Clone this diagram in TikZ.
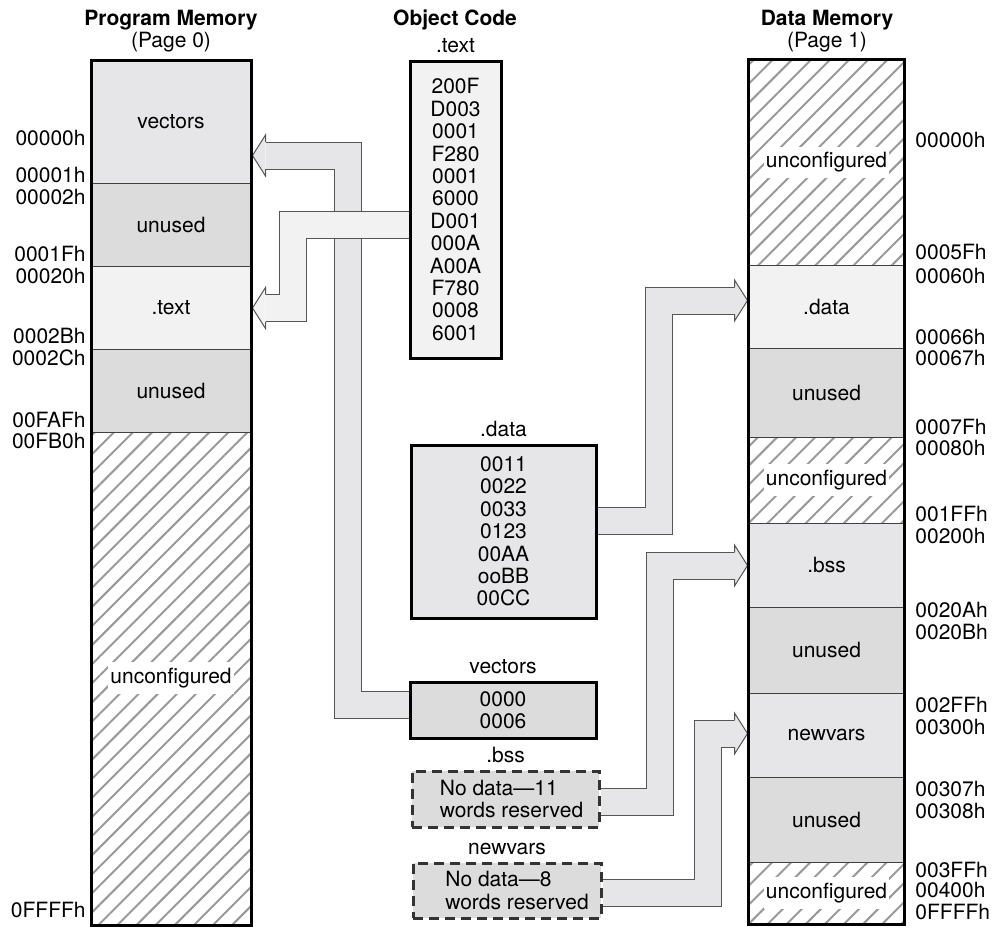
\documentclass[tikz,border=0pt]{standalone}
\usepackage{fontspec}
\setmainfont{TeX Gyre Heros}
\usetikzlibrary{positioning,fit,calc,backgrounds,patterns.meta}

\definecolor{segLite}{HTML}{F2F2F2}
\definecolor{segMid}{HTML}{E6E6E8}
\definecolor{segDark}{HTML}{DCDCDC}
\definecolor{bandLine}{HTML}{555555}
\definecolor{hatchGray}{HTML}{999999}

% #1 start, #2 bend x, #3 tip, #4 head base offset, #5 fill
\newcommand{\memband}[5]{%
  \draw[bandedge] (#1) -| (#2,0 |- #3) -- ($(#3)+(#4,0)$);
  \draw[bandbody, draw=#5] (#1) -| (#2,0 |- #3) -- ($(#3)+(#4,0)$);
  \filldraw[bandtip, fill=#5] ($(#3)+(#4,-13.5)$) -- ++(0,-7) -- (#3) -- ($(#3)+(#4,20.5)$) -- ++(0,-7);
}

\begin{document}
\begin{tikzpicture}[x=0.5pt, y=-0.5pt,
    font=\fontsize{10.5}{11.2}\selectfont,
    seg/.style={draw=black!75, line width=0.5pt, inner sep=0pt},
    unconf/.style={seg, pattern={Lines[angle=45, distance=6.75pt, line width=1pt]}, pattern color=hatchGray},
    unclab/.style={fill=white, inner xsep=1pt, inner ysep=3pt},
    memframe/.style={draw=black, line width=1.5pt},
    objbox/.style={draw=black, line width=1.5pt, inner sep=0pt},
    resbox/.style={objbox, draw=black!80, dash pattern=on 5pt off 3pt, fill=segDark},
    title/.style={font=\fontsize{10.5}{11.2}\selectfont\bfseries},
    addr/.style={inner sep=1pt},
    bandedge/.style={line width=14pt, draw=bandLine},
    bandbody/.style={line width=13pt},
    bandtip/.style={draw=bandLine, line width=0.5pt}
]
\useasboundingbox (0,0) rectangle (994,928);

% program memory
\node[title] (tprog) at (171,20) {Program Memory};
\node (tpage0) at (171,42) {(Page 0)};
\node[seg, fill=segMid, fit={(92,61) (250,183)}, label=center:vectors] (pvec) {};
\node[seg, fill=segDark, fit={(92,183) (250,266)}, label=center:unused] (pun1) {};
\node[seg, fill=segLite, fit={(92,266) (250,349)}, label=center:.text] (ptext) {};
\node[seg, fill=segDark, fit={(92,349) (250,432)}, label=center:unused] (pun2) {};
\node[unconf, fit={(92,432) (250,924)}] (punc) {};
\node[unclab] (punclab) at (punc) {unconfigured};
\draw[memframe] (pvec.north west) rectangle (punc.south east);

\foreach \y/\t [count=\i] in {138/00000h, 175/00001h, 197/00002h, 254/0001Fh, 276/00020h,
    336/0002Bh, 358/0002Ch, 420/00FAFh, 441/00FB0h, 910/0FFFFh}
  \node[addr, anchor=east] (pa\i) at (88,\y) {\t};

% object code
\node[title] (tobj) at (455,20) {Object Code};
\node[objbox, fill=segLite, fit={(410,61) (501,358)},
  label={[align=center]center:{200F\\D003\\0001\\F280\\0001\\6000\\D001\\000A\\A00A\\F780\\0008\\6001}}] (otext) {};
\node[above=0pt of otext] (ltext) {.text};
\node[objbox, fill=segMid, fit={(411,445) (596,618)},
  label={[align=center]center:{0011\\0022\\0033\\0123\\00AA\\ooBB\\00CC}}] (odata) {};
\node[above=0pt of odata] (ldata) {.data};
\node[objbox, fill=segDark, fit={(410,682) (596,738)},
  label={[align=center]center:{0000\\0006}}] (ovec) {};
\node[above=0pt of ovec] (lvec) {vectors};
\node[resbox, fit={(412,771) (599,827)},
  label={[align=left, xshift=3pt]center:{No data---11\\words reserved}}] (obss) {};
\node[above=0pt of obss] (lbss) {.bss};
\node[resbox, fit={(413,863) (601,918)},
  label={[align=left, xshift=5pt]center:{No data---8\\words reserved}}] (onew) {};
\node[above=0pt of onew] (lnew) {newvars};

% data memory
\node[title] (tdata) at (827,20) {Data Memory};
\node (tpage1) at (827,42) {(Page 1)};
\node[unconf, fit={(749,60) (904,265)}] (dunc1) {};
\node[unclab] (dunc1lab) at (dunc1) {unconfigured};
\node[seg, fill=segLite, fit={(749,265) (904,348)}, label=center:.data] (ddata) {};
\node[seg, fill=segDark, fit={(749,348) (904,437)}, label=center:unused] (dun1) {};
\node[unconf, fit={(749,437) (904,523)}] (dunc2) {};
\node[unclab] (dunc2lab) at (dunc2) {unconfigured};
\node[seg, fill=segMid, fit={(749,523) (904,607)}, label=center:.bss] (dbss) {};
\node[seg, fill=segDark, fit={(749,607) (904,693)}, label=center:unused] (dun2) {};
\node[seg, fill=segMid, fit={(749,693) (904,777)}, label=center:newvars] (dnew) {};
\node[seg, fill=segDark, fit={(749,777) (904,862)}, label=center:unused] (dun3) {};
\node[unconf, fit={(749,862) (904,924)}] (dunc3) {};
\node[unclab] (dunc3lab) at (dunc3) {unconfigured};
\draw[memframe] (dunc1.north west) rectangle (dunc3.south east);

\foreach \y/\t [count=\i] in {140/00000h, 252/0005Fh, 276/00060h, 337/00066h, 358/00067h,
    427/0007Fh, 448/00080h, 514/001FFh, 536/00200h, 610/0020Ah, 632/0020Bh, 705/002FFh,
    727/00300h, 789/00307h, 811/00308h, 870/003FFh, 890/00400h, 912/0FFFFh}
  \node[addr, anchor=west] (da\i) at (913,\y) {\t};

% tips
\coordinate (tvec) at ($(pvec.east |- 0,155.5)+(2,0)$);
\coordinate (ttext) at ($(ptext.east |- 0,308)+(2,0)$);
\coordinate (tdat) at ($(ddata.west |- 0,300.5)+(-1,0)$);
\coordinate (tbss) at ($(dbss.west |- 0,565.5)+(-1,0)$);
\coordinate (tnew) at ($(dnew.west |- 0,733.5)+(-1,0)$);

\begin{scope}[on background layer]
\memband{ovec.west |- 0,705}{348}{tvec}{13}{segMid}
\memband{otext.west |- 0,224.5}{293}{ttext}{13}{segLite}
\memband{odata.east |- 0,520.5}{659}{tdat}{-13}{segMid}
\memband{obss.east |- 0,802}{659.5}{tbss}{-13}{segMid}
\memband{onew.east |- 0,893}{708}{tnew}{-13}{segMid}
\end{scope}
\end{tikzpicture}
\end{document}
